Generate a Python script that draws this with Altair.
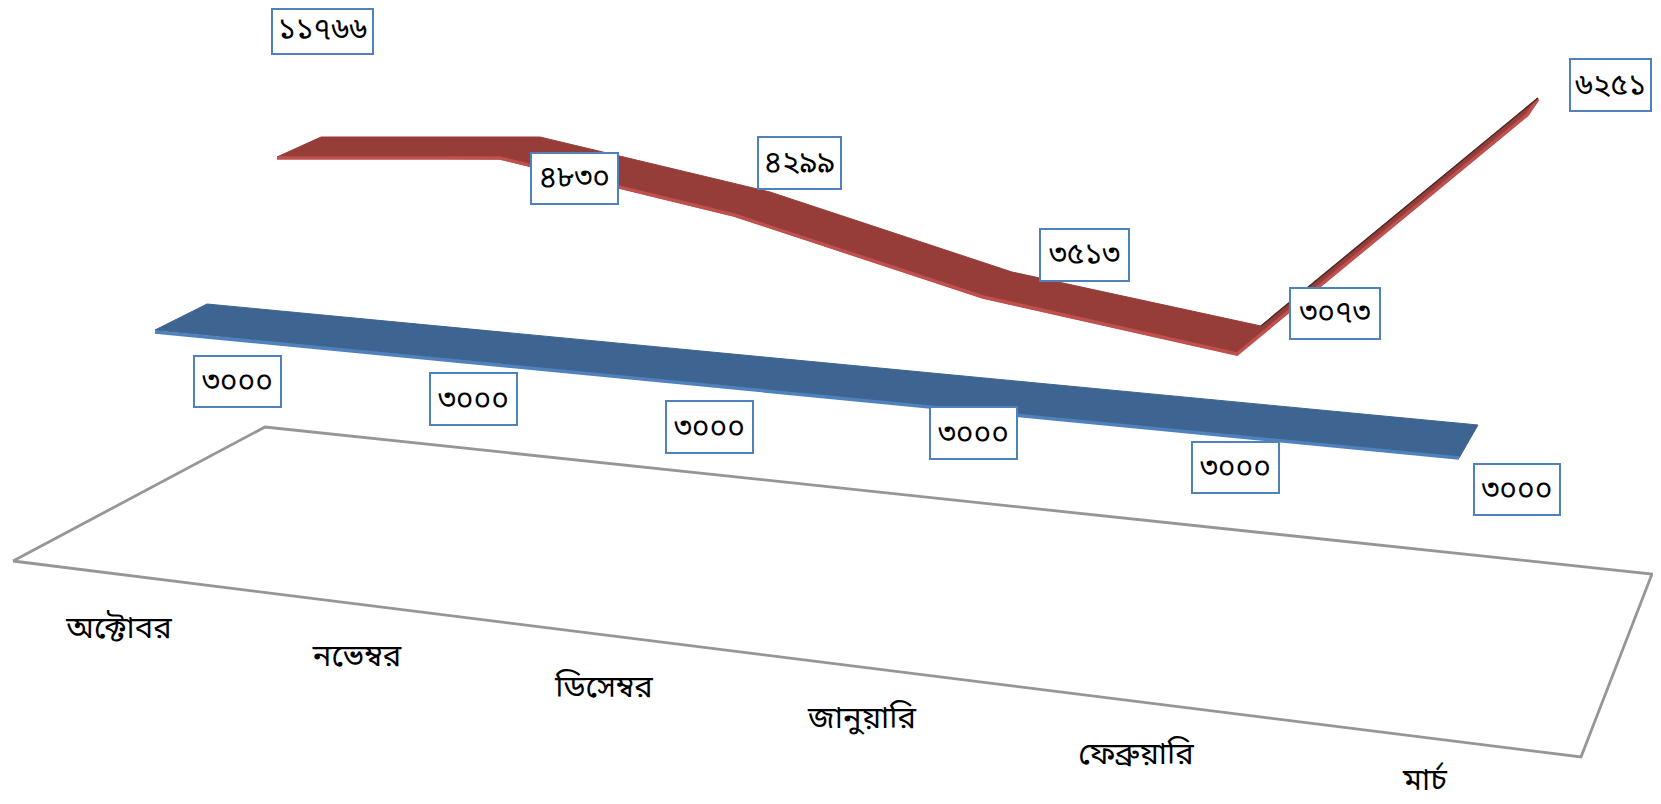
import altair as alt
import pandas as pd

FONT = "Noto Sans Bengali, Lohit Bengali, Noto Sans, DejaVu Sans"

# Outlines (picture pixels)
floor_x = [13, 265, 1652, 1581, 13]
floor_y = [561, 427, 574, 757, 561]

blue_x = [155, 207, 1478, 1459, 155]
blue_y = [330, 304, 425, 458, 330]
blue_edge_x = [155, 1459]
blue_edge_y = [332, 458]

red_x = [277, 321, 540, 770, 1012, 1261, 1538, 1527, 1237, 983, 734, 500, 277]
red_y = [157, 137, 137, 192, 272, 326, 98, 116, 355, 298, 216, 159, 157]
red_edge_x = [277, 500, 734, 983, 1237, 1527, 1538]
red_edge_y = [158, 158, 215, 297, 354, 115, 99]
red_dark_x = [1261, 1538]
red_dark_y = [326, 98]

value_labels = ["১১৭৬৬", "৪৮৩০", "৪২৯৯", "৩৫১৩", "৩০৭৩", "৬২৫১",
                "৩০০০", "৩০০০", "৩০০০", "৩০০০", "৩০০০", "৩০০০"]
box_x1 = [272, 531, 758, 1040, 1290, 1570, 194, 430, 666, 930, 1192, 1474]
box_x2 = [373, 618, 841, 1129, 1380, 1651, 281, 517, 753, 1017, 1279, 1560]
box_y1 = [9, 153, 137, 229, 288, 59, 356, 373, 401, 407, 442, 464]
box_y2 = [54, 204, 189, 281, 339, 111, 407, 425, 453, 459, 493, 515]
text_y = [30, 178, 163, 255, 313, 86, 382, 400, 428, 434, 468, 490]

categories = ["অক্টোবর", "নভেম্বর", "ডিসেম্বর", "জানুয়ারি", "ফেব্রুয়ারি", "মার্চ"]
cat_x = [119, 357, 604, 862, 1136, 1425]
cat_y = [629, 657, 688, 719, 755, 781]

xs = alt.Scale(domain=[8, 1653], nice=False, zero=False)
ys = alt.Scale(domain=[804, 8], nice=False, zero=False)
X = alt.X("x:Q", scale=xs, axis=None)
Y = alt.Y("y:Q", scale=ys, axis=None)


def path(px, py):
    return pd.DataFrame({"x": px, "y": py, "i": range(len(px))})


def poly(px, py, fill):
    return alt.Chart(path(px, py)).mark_line(fill=fill, stroke=fill, strokeWidth=1).encode(
        x=X, y=Y, order="i:Q")


def stroke(px, py, color, w):
    return alt.Chart(path(px, py)).mark_line(stroke=color, strokeWidth=w).encode(
        x=X, y=Y, order="i:Q")


boxes = pd.DataFrame({"x": box_x1, "x2": box_x2, "y": box_y1, "y2": box_y2, "t": value_labels})
boxes["cx"] = [(a + b) / 2 for a, b in zip(box_x1, box_x2)]
boxes["cy"] = text_y
cats = pd.DataFrame({"x": cat_x, "y": cat_y, "t": categories})

layers = [
    stroke(floor_x, floor_y, "#969696", 2.8),
    poly(blue_x, blue_y, "#3E6491"),
    stroke(blue_edge_x, blue_edge_y, "#4F81BD", 3.5),
    poly(red_x, red_y, "#963D3A"),
    stroke(red_edge_x, red_edge_y, "#C0504D", 3.5),
    stroke(red_dark_x, red_dark_y, "#4A2A28", 1.5),
    alt.Chart(boxes).mark_rect(fill="white", stroke="#4F81BD", strokeWidth=2).encode(
        x=X, x2="x2:Q", y=Y, y2="y2:Q"),
    alt.Chart(boxes).mark_text(font=FONT, fontSize=30, color="black", align="center", baseline="middle").encode(
        x=alt.X("cx:Q", scale=xs, axis=None), y=alt.Y("cy:Q", scale=ys, axis=None), text="t:N"),
    alt.Chart(cats).mark_text(font=FONT, fontSize=31, color="black", align="center", baseline="middle").encode(
        x=X, y=Y, text="t:N"),
]

chart = alt.layer(*layers).properties(
    width=1645, height=796, padding=0, autosize=alt.AutoSizeParams(type="none")
).configure_view(stroke=None)

chart.save("out.html", embed_options={"renderer": "svg", "actions": False})
